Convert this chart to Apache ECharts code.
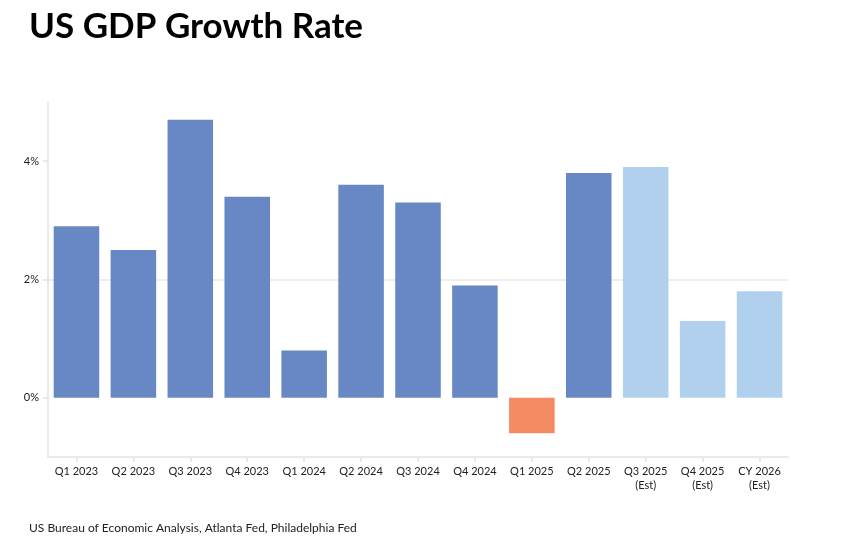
<!DOCTYPE html>
<html>
<head>
<meta charset="utf-8">
<script src="https://cdn.jsdelivr.net/npm/echarts@6/dist/echarts.min.js"></script>
<style>
html,body{margin:0;padding:0;background:#fff;}
#chart{width:850px;height:544px;}
</style>
</head>
<body>
<div id="chart"></div>
<script>
const categories = ['Q1 2023','Q2 2023','Q3 2023','Q4 2023','Q1 2024','Q2 2024','Q3 2024','Q4 2024','Q1 2025','Q2 2025','Q3 2025\n(Est)','Q4 2025\n(Est)','CY 2026\n(Est)'];
const growth = [2.9, 2.5, 4.7, 3.4, 0.8, 3.6, 3.3, 1.9, -0.6, 3.8, 3.9, 1.3, 1.8];
const yTickLabels = [0, 2, 4];

const COL_ACTUAL = '#6788C5';
const COL_EST = '#B0D0EE';
const COL_NEG = '#F58B63';
const FONT = 'Lato';

const chart = echarts.init(document.getElementById('chart'));
chart.setOption({
  backgroundColor: '#fff',
  animation: false,
  title: [{
    text: 'US GDP Growth Rate',
    left: 24, top: 4,
    textStyle: {fontFamily: FONT, fontWeight: 'bold', fontSize: 35, color: '#000'}
  }, {
    text: 'US Bureau of Economic Analysis, Atlanta Fed, Philadelphia Fed',
    left: 24, top: 517,
    textStyle: {fontFamily: FONT, fontWeight: 'normal', fontSize: 12, color: '#222'}
  }],
  grid: {left: 48, right: 62, top: 102, bottom: 87, containLabel: false},
  xAxis: {
    type: 'category',
    data: categories,
    axisLine: {onZero: false, lineStyle: {color: '#e3e3e3', width: 1.5}},
    axisTick: {show: true, alignWithLabel: true, length: 5, lineStyle: {color: '#e3e3e3', width: 1.5}},
    axisLabel: {fontFamily: FONT, fontSize: 11, color: '#222', margin: 7, lineHeight: 14, interval: 0}
  },
  yAxis: {
    type: 'value',
    min: -1, max: 5, interval: 1,
    axisLine: {show: true, lineStyle: {color: '#e3e3e3', width: 1.5}},
    axisTick: {show: true, length: 5, customValues: yTickLabels, lineStyle: {color: '#e3e3e3', width: 1.5}},
    axisLabel: {
      customValues: yTickLabels,
      fontFamily: FONT, fontSize: 11, color: '#222', margin: 9,
      formatter: v => v + '%'
    },
    splitLine: {show: true, showMinLine: true, showMaxLine: true,
      lineStyle: {color: ['rgba(0,0,0,0)', '#e8e8e8'], width: 1.5}}
  },
  series: [{
    type: 'bar',
    data: growth,
    barCategoryGap: '20%',
    itemStyle: {
      color: p => p.value < 0 ? COL_NEG : (categories[p.dataIndex].indexOf('(Est)') >= 0 ? COL_EST : COL_ACTUAL)
    }
  }]
});
</script>
</body>
</html>
